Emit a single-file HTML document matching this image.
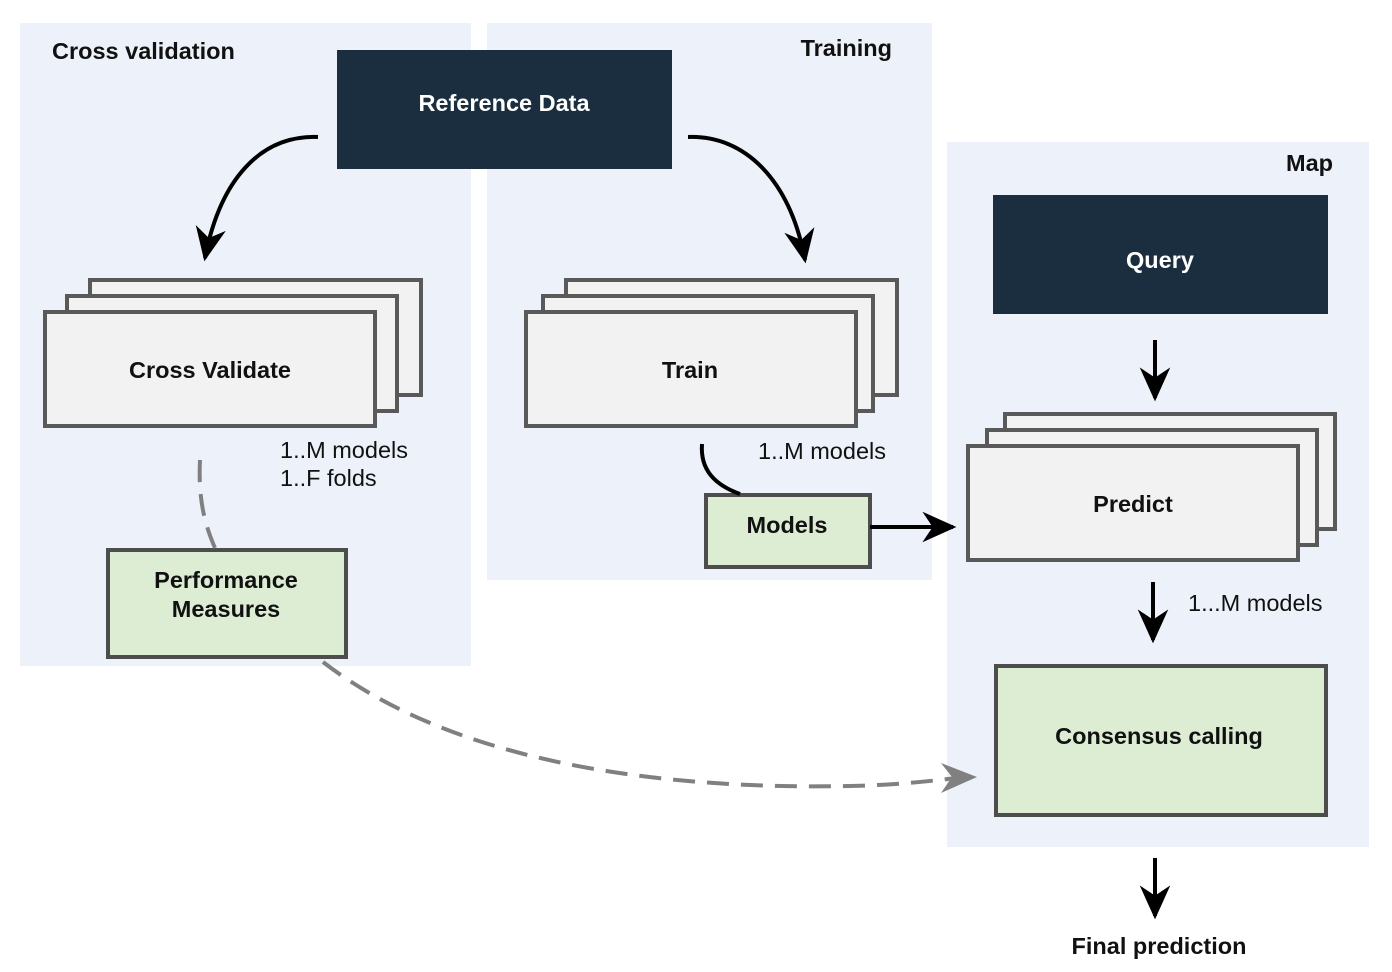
<!DOCTYPE html>
<html><head><style>body{margin:0;background:#fff}svg{display:block}text{font-family:"Liberation Sans",sans-serif}</style></head><body>
<svg width="1392" height="972" viewBox="0 0 1392 972" xmlns="http://www.w3.org/2000/svg">
<defs>
<marker id="ah" markerWidth="34" markerHeight="34" refX="9" refY="5" orient="auto" markerUnits="userSpaceOnUse" viewBox="0 0 10 10"><path d="M0,0.5 L10,5 L0,9.5 L3,5z" fill="#000"/></marker>
</defs>
<g fill="#edf2fa">
<rect x="20" y="23" width="451" height="643"/>
<rect x="487" y="23" width="445" height="557"/>
<rect x="947" y="142" width="422" height="705"/>
</g>
<g font-weight="bold" font-size="23.5" fill="#111">
<text x="52" y="59">Cross validation</text>
<text x="892" y="56" text-anchor="end">Training</text>
<text x="1333" y="171" text-anchor="end">Map</text>
</g>
<rect x="337" y="50" width="335" height="119" fill="#1a2e3f"/>
<rect x="993" y="195" width="335" height="119" fill="#1a2e3f"/>
<g font-weight="bold" font-size="23.5" fill="#fff" text-anchor="middle">
<text x="504" y="111">Reference Data</text>
<text x="1160" y="268">Query</text>
</g>
<g fill="#f2f2f2" stroke="#595959" stroke-width="4">
<rect x="90" y="280" width="331" height="115"/>
<rect x="67" y="296" width="330" height="115"/>
<rect x="45" y="312" width="330" height="114"/>
<rect x="566" y="280" width="331" height="115"/>
<rect x="543" y="296" width="330" height="115"/>
<rect x="526" y="312" width="330" height="114"/>
<rect x="1005" y="414" width="330" height="115"/>
<rect x="987" y="430" width="330" height="115"/>
<rect x="968" y="446" width="330" height="114"/>
</g>
<g fill="#dcedd3" stroke="#4d4d4d" stroke-width="4">
<rect x="706" y="495" width="164" height="72"/>
<rect x="108" y="550" width="238" height="107"/>
<rect x="996" y="666" width="330" height="149"/>
</g>
<g font-weight="bold" font-size="23.5" fill="#111" text-anchor="middle">
<text x="210" y="378">Cross Validate</text>
<text x="690" y="378">Train</text>
<text x="1133" y="512">Predict</text>
<text x="787" y="533">Models</text>
<text x="226" y="588">Performance</text>
<text x="226" y="617">Measures</text>
<text x="1159" y="744">Consensus calling</text>
<text x="1159" y="954">Final prediction</text>
</g>
<g font-size="23.5" fill="#111">
<text x="280" y="458">1..M models</text>
<text x="280" y="486">1..F folds</text>
<text x="758" y="459">1..M models</text>
<text x="1188" y="611">1...M models</text>
</g>
<g fill="none" stroke="#000" stroke-width="4">
<path d="M318,137 C260,135 220,180 205,258" marker-end="url(#ah)"/>
<path d="M688,137 C745,135 790,180 805,260" marker-end="url(#ah)"/>
<path d="M702,444 C700,470 715,485 740,494"/>
<path d="M870,527 L953,527" marker-end="url(#ah)"/>
<path d="M1155,340 L1155,398" marker-end="url(#ah)"/>
<path d="M1153,582 L1153,640" marker-end="url(#ah)"/>
<path d="M1155,858 L1155,916" marker-end="url(#ah)"/>
</g>
<g fill="none" stroke="#808080" stroke-width="4" stroke-dasharray="22,12">
<path d="M200,460 C198,500 205,525 215,548"/>
<path d="M323,662 C450,760 650,790 850,786 C900,785 940,780 965,777"/>
</g>
<path d="M977,777 L941,763 L952,777 L941,793z" fill="#808080"/>
</svg>
</body></html>
